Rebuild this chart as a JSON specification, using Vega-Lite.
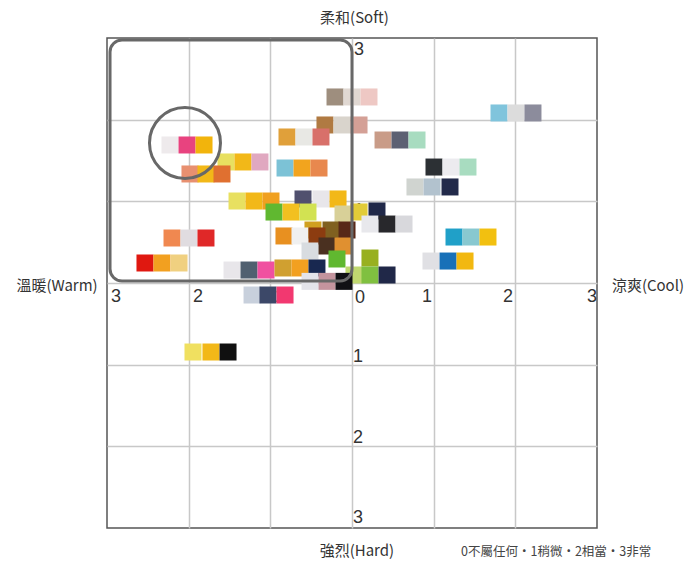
{
  "$schema": "https://vega.github.io/schema/vega-lite/v6.json",
  "width": 490,
  "height": 490,
  "autosize": {"type": "none"},
  "padding": {"left": 107, "top": 38, "right": 95, "bottom": 35},
  "background": "white",
  "config": {
    "view": {"stroke": "#555", "strokeWidth": 1.5}
  },
  "datasets": {
    "swatches": [
      {"x": -2.229, "y": 1.69, "c": "#eeeaec"}, {"x": -2.02, "y": 1.69, "c": "#e8437f"}, {"x": -1.812, "y": 1.69, "c": "#f2b40c"},
      {"x": -0.208, "y": 2.278, "c": "#9e8e7e"}, {"x": 0.0, "y": 2.278, "c": "#e0d8d2"}, {"x": 0.208, "y": 2.278, "c": "#eec8c4"},
      {"x": -0.331, "y": 1.935, "c": "#b07a42"}, {"x": -0.122, "y": 1.935, "c": "#d9d4cc"}, {"x": 0.086, "y": 1.935, "c": "#d4a096"},
      {"x": -0.796, "y": 1.788, "c": "#e0a03a"}, {"x": -0.588, "y": 1.788, "c": "#e8e8e4"}, {"x": -0.38, "y": 1.788, "c": "#d8706a"},
      {"x": 0.38, "y": 1.751, "c": "#c99c88"}, {"x": 0.588, "y": 1.751, "c": "#5c6072"}, {"x": 0.796, "y": 1.751, "c": "#a8dcc0"},
      {"x": -0.82, "y": 1.408, "c": "#7cc2d6"}, {"x": -0.612, "y": 1.408, "c": "#f2a41e"}, {"x": -0.404, "y": 1.408, "c": "#e8884e"},
      {"x": 1.004, "y": 1.42, "c": "#2c3034"}, {"x": 1.212, "y": 1.42, "c": "#ecebef"}, {"x": 1.42, "y": 1.42, "c": "#a8dcc0"},
      {"x": 0.771, "y": 1.176, "c": "#d0d4d0"}, {"x": 0.98, "y": 1.176, "c": "#b2c2ce"}, {"x": 1.2, "y": 1.176, "c": "#222a4a"},
      {"x": 1.8, "y": 2.082, "c": "#80c4dc"}, {"x": 2.008, "y": 2.082, "c": "#dcdcdc"}, {"x": 2.216, "y": 2.082, "c": "#8c8c9c"},
      {"x": -1.543, "y": 1.482, "c": "#e8e060"}, {"x": -1.335, "y": 1.482, "c": "#f2b818"}, {"x": -1.127, "y": 1.482, "c": "#e0a8c0"},
      {"x": -1.984, "y": 1.335, "c": "#e89070"}, {"x": -1.788, "y": 1.335, "c": "#f2b818"}, {"x": -1.592, "y": 1.335, "c": "#e07030"},
      {"x": -1.408, "y": 1.004, "c": "#e8e060"}, {"x": -1.2, "y": 1.004, "c": "#f2b818"}, {"x": -0.992, "y": 1.004, "c": "#f0a020"},
      {"x": -0.6, "y": 1.029, "c": "#50506e"}, {"x": -0.38, "y": 1.029, "c": "#e8e6ea"}, {"x": -0.171, "y": 1.029, "c": "#f2b818"},
      {"x": -0.955, "y": 0.869, "c": "#60b830"}, {"x": -0.747, "y": 0.869, "c": "#f2c020"}, {"x": -0.539, "y": 0.869, "c": "#d2e252"},
      {"x": -0.11, "y": 0.845, "c": "#d8d098"}, {"x": 0.086, "y": 0.87, "c": "#e2cc38"}, {"x": 0.306, "y": 0.882, "c": "#202848"},
      {"x": 0.22, "y": 0.722, "c": "#e8e8ec"}, {"x": 0.429, "y": 0.722, "c": "#28282c"}, {"x": 0.637, "y": 0.722, "c": "#d8d8dc"},
      {"x": 1.249, "y": 0.563, "c": "#20a0c8"}, {"x": 1.457, "y": 0.563, "c": "#88c8d0"}, {"x": 1.665, "y": 0.563, "c": "#f2c010"},
      {"x": 0.967, "y": 0.269, "c": "#e0e0e4"}, {"x": 1.176, "y": 0.269, "c": "#1870b8"}, {"x": 1.384, "y": 0.269, "c": "#f2b810"},
      {"x": -2.204, "y": 0.551, "c": "#f08850"}, {"x": -1.996, "y": 0.551, "c": "#e0dce0"}, {"x": -1.788, "y": 0.551, "c": "#e02828"},
      {"x": -2.535, "y": 0.245, "c": "#e01810"}, {"x": -2.327, "y": 0.245, "c": "#f2a020"}, {"x": -2.118, "y": 0.245, "c": "#f0d080"},
      {"x": -0.478, "y": 0.649, "c": "#d0a020"}, {"x": -0.257, "y": 0.649, "c": "#806020"}, {"x": -0.061, "y": 0.649, "c": "#582818"},
      {"x": -0.833, "y": 0.576, "c": "#e89020"}, {"x": -0.637, "y": 0.576, "c": "#f0f0f0"}, {"x": -0.429, "y": 0.576, "c": "#8c3c10"},
      {"x": -0.514, "y": 0.392, "c": "#d8dce0"}, {"x": -0.306, "y": 0.453, "c": "#4a3020"}, {"x": -0.11, "y": 0.453, "c": "#e09030"},
      {"x": -0.184, "y": 0.294, "c": "#60b830"},
      {"x": 0.22, "y": 0.306, "c": "#98b020"},
      {"x": -1.469, "y": 0.159, "c": "#e8e6ea"}, {"x": -1.261, "y": 0.159, "c": "#506070"}, {"x": -1.053, "y": 0.159, "c": "#f050a0"},
      {"x": -0.845, "y": 0.184, "c": "#d0a030"}, {"x": -0.637, "y": 0.184, "c": "#f2a020"}, {"x": -0.429, "y": 0.184, "c": "#182850"},
      {"x": 0.024, "y": 0.098, "c": "#c0d870"}, {"x": 0.22, "y": 0.098, "c": "#80c040"}, {"x": 0.429, "y": 0.098, "c": "#202848"},
      {"x": -0.514, "y": 0.02, "c": "#e4e4ea"}, {"x": -0.306, "y": 0.02, "c": "#c4949e"}, {"x": -0.098, "y": 0.02, "c": "#101014"},
      {"x": -1.224, "y": -0.147, "c": "#c8d0dc"}, {"x": -1.029, "y": -0.147, "c": "#3c4868"}, {"x": -0.82, "y": -0.147, "c": "#f23870"},
      {"x": -1.947, "y": -0.845, "c": "#f0e060"}, {"x": -1.727, "y": -0.845, "c": "#f2b818"}, {"x": -1.518, "y": -0.845, "c": "#101010"}
    ],
    "ticklabels": [
      {"x": -2.89, "y": -0.171, "t": "3"}, {"x": -1.886, "y": -0.171, "t": "2"}, {"x": -0.882, "y": -0.171, "t": "1"},
      {"x": 0.098, "y": -0.18, "t": "0"}, {"x": 0.918, "y": -0.171, "t": "1"}, {"x": 1.91, "y": -0.171, "t": "2"}, {"x": 2.939, "y": -0.171, "t": "3"},
      {"x": 0.085, "y": 2.853, "t": "3"}, {"x": 0.085, "y": 1.898, "t": "2"}, {"x": 0.085, "y": 0.88, "t": "1"},
      {"x": 0.073, "y": -0.906, "t": "1"}, {"x": 0.073, "y": -1.898, "t": "2"}, {"x": 0.073, "y": -2.878, "t": "3"}
    ],
    "titles": [
      {"x": 0.03, "y": 3.25, "t": "柔和(Soft)"},
      {"x": 0.06, "y": -3.285, "t": "強烈(Hard)"},
      {"x": -3.612, "y": -0.037, "t": "溫暖(Warm)"},
      {"x": 3.624, "y": -0.037, "t": "涼爽(Cool)"}
    ],
    "note": [{"x": 2.5, "y": -3.296, "t": "0不屬任何・1稍微・2相當・3非常"}],
    "frame": [{"x": -2.963, "x2": 0, "y": 0.025, "y2": 2.975}],
    "ring": [{"x": -2.045, "y": 1.714}]
  },
  "layer": [
    {
      "data": {"name": "ticklabels"},
      "mark": {"type": "text", "font": "Liberation Sans", "fontSize": 18, "color": "#333", "align": "center", "baseline": "middle"},
      "encoding": {
        "x": {"field": "x", "type": "quantitative", "scale": {"domain": [-3, 3], "nice": false, "zero": false},
              "axis": {"values": [-2, -1, 0, 1, 2], "domain": false, "labels": false, "ticks": false, "title": null, "grid": true, "gridColor": "#c8c8c8", "gridWidth": 1.5}},
        "y": {"field": "y", "type": "quantitative", "scale": {"domain": [-3, 3], "nice": false, "zero": false},
              "axis": {"values": [-2, -1, 0, 1, 2], "domain": false, "labels": false, "ticks": false, "title": null, "grid": true, "gridColor": "#c8c8c8", "gridWidth": 1.5}},
        "text": {"field": "t"}
      }
    },
    {
      "data": {"name": "swatches"},
      "mark": {"type": "point", "shape": "square", "filled": true, "opacity": 1, "size": 289, "strokeWidth": 0},
      "encoding": {
        "x": {"field": "x", "type": "quantitative"},
        "y": {"field": "y", "type": "quantitative"},
        "color": {"field": "c", "type": "nominal", "scale": null}
      }
    },
    {
      "data": {"name": "frame"},
      "mark": {"type": "rect", "cornerRadius": 12, "fillOpacity": 0, "fill": "white", "stroke": "#686868", "strokeWidth": 3},
      "encoding": {
        "x": {"field": "x", "type": "quantitative"},
        "x2": {"field": "x2"},
        "y": {"field": "y", "type": "quantitative"},
        "y2": {"field": "y2"}
      }
    },
    {
      "data": {"name": "ring"},
      "mark": {"type": "point", "shape": "circle", "filled": false, "size": 5041, "stroke": "#686868", "strokeWidth": 3, "opacity": 1},
      "encoding": {
        "x": {"field": "x", "type": "quantitative"},
        "y": {"field": "y", "type": "quantitative"}
      }
    },
    {
      "data": {"name": "titles"},
      "mark": {"type": "text", "font": "Noto Sans CJK TC", "fontSize": 15, "color": "#333", "align": "center", "baseline": "middle"},
      "encoding": {
        "x": {"field": "x", "type": "quantitative"},
        "y": {"field": "y", "type": "quantitative"},
        "text": {"field": "t"}
      }
    },
    {
      "data": {"name": "note"},
      "mark": {"type": "text", "font": "Noto Sans CJK TC", "fontSize": 12.5, "color": "#444", "align": "center", "baseline": "middle"},
      "encoding": {
        "x": {"field": "x", "type": "quantitative"},
        "y": {"field": "y", "type": "quantitative"},
        "text": {"field": "t"}
      }
    }
  ]
}
